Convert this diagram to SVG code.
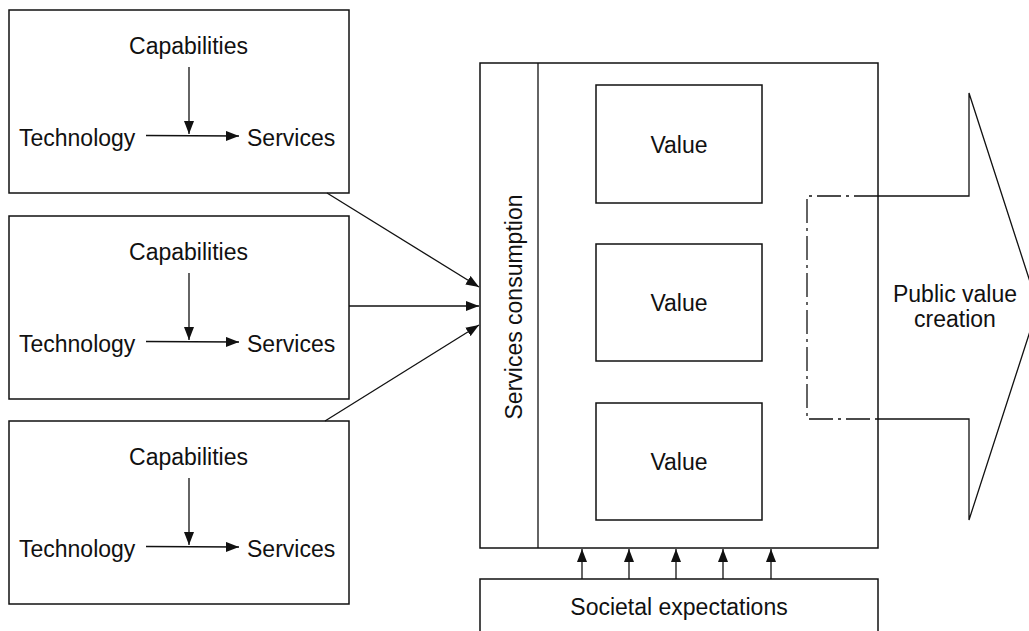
<svg xmlns="http://www.w3.org/2000/svg" width="1029" height="631" viewBox="0 0 1029 631">
<style>
text{font-family:"Liberation Sans",Arial,sans-serif;font-size:23px;fill:#111}
.box{fill:#fff;stroke:#111;stroke-width:1.5}
.ln{fill:none;stroke:#111;stroke-width:1.3}
.mid{text-anchor:middle}
</style>
<defs>
<marker id="ah" viewBox="0 0 13 10" refX="13" refY="5" markerWidth="13" markerHeight="10" markerUnits="userSpaceOnUse" orient="auto">
<path d="M0,0 L13,5 L0,10 z" fill="#111"/>
</marker>
</defs>
<rect width="1029" height="631" fill="#fff"/>
<g id="tech1">
<rect class="box" x="9" y="10" width="340" height="183"/>
<text class="mid" x="188.5" y="54">Capabilities</text>
<text x="19" y="146">Technology</text>
<text x="247" y="146">Services</text>
<line class="ln" x1="189" y1="67" x2="189" y2="134" marker-end="url(#ah)"/>
<line class="ln" x1="146" y1="135.5" x2="239" y2="136" marker-end="url(#ah)"/>
</g>
<g id="tech2">
<rect class="box" x="9" y="216" width="340" height="183"/>
<text class="mid" x="188.5" y="260">Capabilities</text>
<text x="19" y="352">Technology</text>
<text x="247" y="352">Services</text>
<line class="ln" x1="189" y1="273" x2="189" y2="340" marker-end="url(#ah)"/>
<line class="ln" x1="146" y1="341.5" x2="239" y2="342" marker-end="url(#ah)"/>
</g>
<g id="tech3">
<rect class="box" x="9" y="421" width="340" height="183"/>
<text class="mid" x="188.5" y="465">Capabilities</text>
<text x="19" y="557">Technology</text>
<text x="247" y="557">Services</text>
<line class="ln" x1="189" y1="478" x2="189" y2="545" marker-end="url(#ah)"/>
<line class="ln" x1="146" y1="546.5" x2="239" y2="547" marker-end="url(#ah)"/>
</g>
<g id="public-value-arrow">
<path class="ln" d="M878,196 L969,196 L969,93 L1038,306.5 L969,520 L969,419 L878,419"/>
<path class="ln" d="M878,196 L807,196 L807,419 L878,419" stroke-dasharray="24 5 3 5"/>
<text class="mid" x="955" y="302">Public value</text>
<text class="mid" x="955" y="327">creation</text>
</g>
<g id="consumption">
<rect class="box" x="480" y="63" width="398" height="485" style="fill:none"/>
<line class="ln" x1="538" y1="63" x2="538" y2="548"/>
<text class="mid" transform="translate(521.5,307) rotate(-90)">Services consumption</text>
</g>
<g id="value1">
<rect class="box" x="596" y="85" width="166" height="118"/>
<text class="mid" x="679" y="153">Value</text>
</g>
<g id="value2">
<rect class="box" x="596" y="244" width="166" height="117"/>
<text class="mid" x="679" y="311">Value</text>
</g>
<g id="value3">
<rect class="box" x="596" y="403" width="166" height="117"/>
<text class="mid" x="679" y="470">Value</text>
</g>
<g id="societal">
<rect class="box" x="480" y="579" width="398" height="70"/>
<text class="mid" x="679" y="615">Societal expectations</text>
</g>
<g id="connectors">
<line class="ln" x1="327" y1="193" x2="479" y2="287" marker-end="url(#ah)"/>
<line class="ln" x1="349" y1="306" x2="479" y2="306" marker-end="url(#ah)"/>
<line class="ln" x1="325" y1="421" x2="479" y2="325" marker-end="url(#ah)"/>
<line class="ln" x1="582" y1="579" x2="582" y2="549" marker-end="url(#ah)"/>
<line class="ln" x1="629" y1="579" x2="629" y2="549" marker-end="url(#ah)"/>
<line class="ln" x1="676" y1="579" x2="676" y2="549" marker-end="url(#ah)"/>
<line class="ln" x1="723" y1="579" x2="723" y2="549" marker-end="url(#ah)"/>
<line class="ln" x1="771" y1="579" x2="771" y2="549" marker-end="url(#ah)"/>
</g>
</svg>
